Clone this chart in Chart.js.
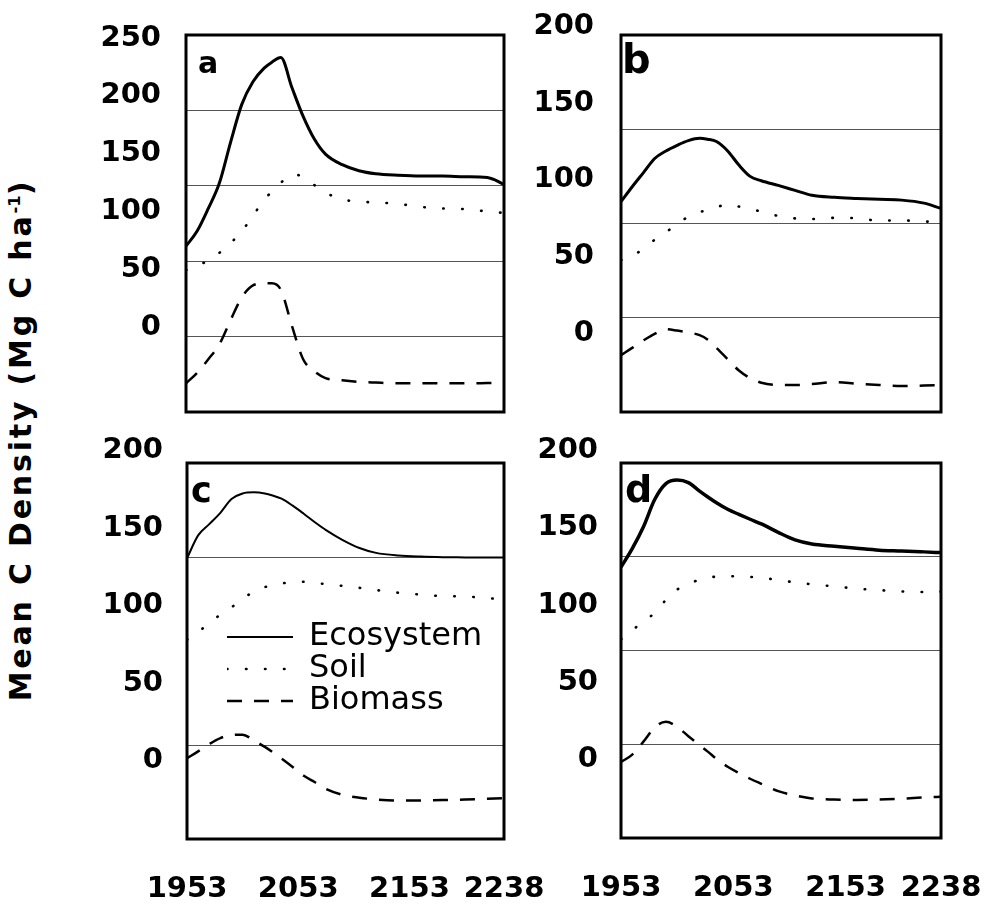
<!DOCTYPE html>
<html>
<head>
<meta charset="utf-8">
<title>Mean C Density</title>
<script src="https://cdn.jsdelivr.net/npm/chart.js@4.4.1/dist/chart.umd.min.js"></script>
<style>
  html, body { margin: 0; padding: 0; background: #fff; }
  body { width: 994px; height: 907px; position: relative; overflow: hidden; }
  canvas { position: absolute; }
  #ytitle {
    position: absolute; left: -277px; top: 420px; width: 600px; height: 40px;
    line-height: 40px; text-align: center; transform: rotate(-90deg);
    font: bold 30px "DejaVu Sans"; letter-spacing: 2.8px; color: #000; white-space: nowrap;
  }
  #ytitle sup { font-size: 0.55em; line-height: 0; vertical-align: super; letter-spacing: 0; }
</style>
</head>
<body>
<div id="ytitle">Mean C Density (Mg C ha<sup>-1</sup>)</div>
<canvas id="panelA" width="480" height="430" style="left:40px;top:0px"></canvas>
<canvas id="panelB" width="474" height="430" style="left:520px;top:0px"></canvas>
<canvas id="panelC" width="520" height="477" style="left:40px;top:430px"></canvas>
<canvas id="panelD" width="474" height="477" style="left:520px;top:430px"></canvas>
<script>
// values (Mg C / ha)
const years = [1953, 1963, 1973, 1983, 1993, 2003, 2013, 2023, 2030, 2038, 2048, 2058,
  2068, 2078, 2093, 2108, 2123, 2143, 2163, 2183, 2203, 2223, 2238];
const xTickYears = [1953, 2053, 2153, 2238];
const seriesNames = ['Ecosystem', 'Soil', 'Biomass'];
const yLabelsA = [0, 50, 100, 150, 200, 250];
const yLabelsBCD = [0, 50, 100, 150, 200];

// panel a
const ecoA = [110, 120, 135, 152, 179, 204, 219, 228, 232, 235, 215, 196, 181, 171, 164, 160, 158, 157, 156.5, 156.5, 156, 155.5, 151];
const soilA = [94, 97, 100.5, 105.6, 112, 120, 130, 141, 146, 152, 157.5, 156, 150.5, 145.5, 141, 139.5, 139, 138, 136, 135, 134.5, 133, 132];
const bioA = [19, 26, 35, 45, 61, 76, 84, 85.3, 85.3, 81, 57, 35, 27, 22.5, 21, 20, 19.5, 19, 19, 19, 19, 19.2, 19.4];

// panel b
const ecoB = [111.6, 119.5, 127, 134.5, 138.5, 141.5, 144, 145.2, 144.7, 143.5, 138.5, 131, 125, 122.7, 120.2, 117.6, 115, 113.9, 113.3, 112.8, 112.4, 110.8, 108];
const soilB = [80.6, 83, 86.5, 91.4, 95.3, 99.8, 103.5, 106, 107.3, 108.6, 110.2, 109, 107.7, 106.3, 104, 102.7, 102.4, 103, 102.8, 101.5, 101.7, 101, 101];
const bioB = [30.2, 34, 38, 41.5, 43.9, 43.2, 42.2, 40.8, 38.5, 34, 28, 22, 18, 15.5, 14.3, 14.3, 14.8, 15.8, 15, 14.3, 13.8, 14, 14.3];

// panel c
const ecoC = [149.3, 161.5, 167.5, 173.5, 180.8, 183.8, 184.4, 183.8, 182.7, 181, 177.3, 173, 168.5, 164.3, 159, 154.8, 152.2, 150.8, 150.2, 149.9, 149.8, 149.7, 149.7];
const soilC = [106, 110, 115, 119.3, 123.2, 127.8, 131.5, 134, 135, 135.9, 136.7, 136.8, 136.1, 135.6, 134.6, 133.6, 132.4, 131, 130, 129.2, 129, 128.1, 127.5];
const bioC = [42.9, 46.6, 50.5, 53.7, 55.3, 55.5, 52.5, 49, 46.2, 42.8, 38.3, 33.6, 30.2, 26.6, 23.5, 22, 21, 20.4, 20.5, 20.7, 21, 21.4, 21.7];

// panel d
const ecoD = [144.5, 154.3, 166, 180.5, 189, 190.9, 189.5, 185, 182, 178.8, 175.3, 172.6, 170, 167.5, 163, 159, 156.8, 155.6, 154.5, 153.5, 153.1, 152.6, 152.2];
const soilD = [106, 110.7, 115.7, 120, 127, 132.5, 135.5, 137.8, 138.8, 139.4, 139.7, 139.4, 139.2, 139, 137.4, 136.4, 135.3, 134.2, 133, 132.2, 131.5, 131.2, 131.4];
const bioD = [40.5, 44.5, 51.4, 59, 62, 59.3, 54.3, 49.5, 46.2, 42.2, 38, 34.7, 31.6, 28.9, 25, 22.7, 21.1, 20.5, 20.3, 20.5, 21, 21.6, 22];

Chart.defaults.font.family = '"DejaVu Sans"';
Chart.defaults.color = '#000';

// black box round the plot area + panel letter
const framePlugin = {
  id: 'frame',
  afterDraw(chart, args, opts) {
    const { ctx, chartArea: a } = chart;
    ctx.save();
    ctx.lineWidth = 3;
    ctx.strokeStyle = '#000';
    ctx.strokeRect(a.left, a.top, a.right - a.left, a.bottom - a.top);
    if (opts.letter) {
      ctx.font = 'bold ' + opts.size + 'px "DejaVu Sans"';
      ctx.fillStyle = '#000';
      ctx.textBaseline = 'alphabetic';
      ctx.fillText(opts.letter, a.left + opts.lx, a.top + opts.ly);
    }
    ctx.restore();
  }
};

// put the legend inside the plot area
const legendSpot = {
  id: 'legendSpot',
  afterLayout(chart, args, opts) {
    const lg = chart.legend;
    if (!lg || opts.dx == null) return;
    const ca = chart.chartArea;
    lg.left = ca.left + opts.dx;
    lg.top = ca.top + opts.dy;
    lg.right = ca.right;
    lg.bottom = ca.bottom;
    lg.width = lg.right - lg.left;
    lg.height = lg.bottom - lg.top;
  }
};

// legend samples keep the dataset's dash pattern
function legendLabels(chart) {
  const items = Chart.defaults.plugins.legend.labels.generateLabels(chart);
  items.forEach(it => {
    const ds = chart.data.datasets[it.datasetIndex];
    it.lineDash = ds.borderDash || [];
    it.lineCap = ds.borderCapStyle || 'butt';
    it.lineWidth = ds.borderWidth;
  });
  return items;
}

function makePanel(id, cfg) {
  const pts = arr => years.map((yr, i) => ({ x: yr, y: arr[i] }));
  const hide = cfg.hideGrid || [];
  return new Chart(document.getElementById(id), {
    type: 'line',
    data: {
      datasets: [{
        label: seriesNames[0], data: pts(cfg.eco), yAxisID: 'y',
        borderColor: '#000', borderWidth: cfg.ecoWidth, pointRadius: 0,
        cubicInterpolationMode: 'monotone'
      }, {
        label: seriesNames[1], data: pts(cfg.soil), yAxisID: 'y',
        borderColor: '#000', borderWidth: 2.6, borderDash: [0.5, 18.5], borderCapStyle: 'round',
        pointRadius: 0, cubicInterpolationMode: 'monotone'
      }, {
        label: seriesNames[2], data: pts(cfg.bio), yAxisID: 'y',
        borderColor: '#000', borderWidth: 2.5, borderDash: [15, 12],
        pointRadius: 0, cubicInterpolationMode: 'monotone'
      }]
    },
    options: {
      responsive: false,
      animation: false,
      events: [],
      layout: { padding: cfg.pad },
      scales: {
        x: {
          type: 'linear', min: years[0], max: years[years.length - 1],
          display: cfg.showX,
          grid: { display: false, drawTicks: false },
          border: { display: false },
          ticks: {
            autoSkip: false, maxRotation: 0, padding: 33,
            font: { size: 29, weight: 'bold' },
            callback: v => String(v)
          },
          afterBuildTicks: ax => { ax.ticks = xTickYears.map(v => ({ value: v })); },
          afterFit: ax => { ax.height = cfg.showX ? 60 : 0; ax.paddingLeft = 0; ax.paddingRight = 0; }
        },
        y: {
          min: 0, max: cfg.top, position: 'left',
          ticks: { display: false, stepSize: 50 },
          grid: {
            drawTicks: false, lineWidth: 1,
            color: c => hide.includes(c.tick.value) ? 'rgba(0,0,0,0)' : '#555'
          },
          border: { display: false },
          afterFit: ax => { ax.width = 0; ax.paddingTop = 0; ax.paddingBottom = 0; }
        },
        yl: {
          type: 'linear', position: 'left', min: cfg.labelMin, max: cfg.labelMax,
          grid: { display: false, drawTicks: false },
          border: { display: false },
          ticks: {
            autoSkip: false, padding: cfg.labelPad,
            font: { size: 29, weight: 'bold' },
            callback: v => String(v)
          },
          afterBuildTicks: ax => { ax.ticks = cfg.yLabels.map(v => ({ value: v })); },
          afterFit: ax => { ax.width = cfg.axisW; ax.paddingTop = 0; ax.paddingBottom = 0; }
        }
      },
      plugins: {
        legend: {
          display: !!cfg.legend,
          position: 'chartArea',
          align: 'start',
          labels: {
            usePointStyle: true, pointStyle: 'line', pointStyleWidth: 66, boxWidth: 66,
            padding: 0, color: '#000', font: { size: 32 },
            generateLabels: legendLabels
          }
        },
        legendSpot: cfg.legend || {},
        tooltip: { enabled: false },
        frame: cfg.letter
      }
    },
    plugins: [framePlugin, legendSpot]
  });
}

makePanel('panelA', {
  eco: ecoA, soil: soilA, bio: bioA, ecoWidth: 3, top: 250,
  yLabels: yLabelsA, labelMin: -73.5, labelMax: 252.6, labelPad: 25, axisW: 146,
  pad: { top: 35, right: 16, bottom: 18, left: 0 }, showX: false,
  letter: { letter: 'a', size: 30, lx: 12, ly: 38 }
});
makePanel('panelB', {
  eco: ecoB, soil: soilB, bio: bioB, ecoWidth: 3, top: 200,
  yLabels: yLabelsBCD, labelMin: -51.5, labelMax: 194.4, labelPad: 27, axisW: 101,
  pad: { top: 35, right: 53, bottom: 18, left: 0 }, showX: false,
  letter: { letter: 'b', size: 40, lx: 1, ly: 38 }
});
makePanel('panelC', {
  eco: ecoC, soil: soilC, bio: bioC, ecoWidth: 2, top: 200, hideGrid: [100],
  yLabels: yLabelsBCD, labelMin: -50.5, labelMax: 192, labelPad: 24, axisW: 147,
  pad: { top: 33, right: 56, bottom: 8, left: 0 }, showX: true,
  legend: { dx: 40, dy: 158 },
  letter: { letter: 'c', size: 35, lx: 4, ly: 39 }
});
makePanel('panelD', {
  eco: ecoD, soil: soilD, bio: bioD, ecoWidth: 3.5, top: 200,
  yLabels: yLabelsBCD, labelMin: -50.5, labelMax: 192, labelPad: 23, axisW: 101,
  pad: { top: 33, right: 53, bottom: 9, left: 0 }, showX: true,
  letter: { letter: 'd', size: 38, lx: 4, ly: 39 }
});
</script>
</body>
</html>
